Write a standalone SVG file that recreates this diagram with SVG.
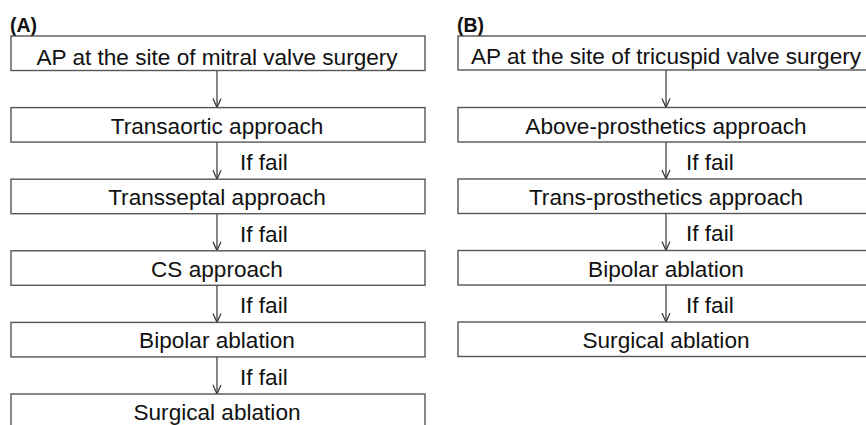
<svg xmlns="http://www.w3.org/2000/svg" width="866" height="425" viewBox="0 0 866 425">
<style>
.box{fill:#fff;stroke:#555;stroke-width:1.4}
.t{font-family:"Liberation Sans",Arial,sans-serif;font-size:22.6px;fill:#111;text-anchor:middle}
.f{font-family:"Liberation Sans",Arial,sans-serif;font-size:22.6px;fill:#111}
.lbl{font-family:"Liberation Sans",Arial,sans-serif;font-size:19.5px;font-weight:bold;fill:#111}
.c{stroke:#333;stroke-width:1.2;fill:none}
</style>
<defs>
<marker id="ah" viewBox="0 0 10 10" refX="10" refY="5" markerWidth="10" markerHeight="10" markerUnits="userSpaceOnUse" orient="auto">
<path d="M1,1 L10,5 L1,9" fill="none" stroke="#333" stroke-width="1.2"/>
</marker>
</defs>
<rect width="866" height="425" fill="#fff"/>
<text class="lbl" x="10" y="32">(A)</text>
<text class="lbl" x="457" y="32">(B)</text>
<g id="connectors">
<line class="c" x1="217" y1="70.5" x2="217" y2="107.6" marker-end="url(#ah)"/>
<line class="c" x1="217" y1="142.1" x2="217" y2="179.2" marker-end="url(#ah)"/>
<line class="c" x1="217" y1="213.7" x2="217" y2="250.8" marker-end="url(#ah)"/>
<line class="c" x1="217" y1="285.3" x2="217" y2="322.4" marker-end="url(#ah)"/>
<line class="c" x1="217" y1="356.9" x2="217" y2="394" marker-end="url(#ah)"/>
<text class="f" x="240" y="170">If fail</text>
<text class="f" x="240" y="241.5">If fail</text>
<text class="f" x="240" y="313">If fail</text>
<text class="f" x="240" y="385">If fail</text>
<line class="c" x1="666" y1="70" x2="666" y2="107.5" marker-end="url(#ah)"/>
<line class="c" x1="666" y1="142" x2="666" y2="179" marker-end="url(#ah)"/>
<line class="c" x1="666" y1="213.5" x2="666" y2="250.5" marker-end="url(#ah)"/>
<line class="c" x1="666" y1="285" x2="666" y2="322" marker-end="url(#ah)"/>
<text class="f" x="686" y="169.5">If fail</text>
<text class="f" x="686" y="241">If fail</text>
<text class="f" x="686" y="312.5">If fail</text>
</g>
<g id="a1"><rect class="box" x="11" y="36" width="414" height="34.5"/><text class="t" x="217" y="64.5">AP at the site of mitral valve surgery</text></g>
<g id="a2"><rect class="box" x="11" y="107.6" width="414" height="34.5"/><text class="t" x="217" y="133.8">Transaortic approach</text></g>
<g id="a3"><rect class="box" x="11" y="179.2" width="414" height="34.5"/><text class="t" x="217" y="205.4">Transseptal approach</text></g>
<g id="a4"><rect class="box" x="11" y="250.8" width="414" height="34.5"/><text class="t" x="217" y="277">CS approach</text></g>
<g id="a5"><rect class="box" x="11" y="322.4" width="414" height="34.5"/><text class="t" x="217" y="348.4">Bipolar ablation</text></g>
<g id="a6"><rect class="box" x="11" y="394" width="414" height="40"/><text class="t" x="217" y="419.5">Surgical ablation</text></g>
<g id="b1"><rect class="box" x="458" y="36" width="420" height="34"/><text class="t" x="666" y="64">AP at the site of tricuspid valve surgery</text></g>
<g id="b2"><rect class="box" x="458" y="107.5" width="420" height="34.5"/><text class="t" x="666" y="133.7">Above-prosthetics approach</text></g>
<g id="b3"><rect class="box" x="458" y="179" width="420" height="34.5"/><text class="t" x="666" y="205.2">Trans-prosthetics approach</text></g>
<g id="b4"><rect class="box" x="458" y="250.5" width="420" height="34.5"/><text class="t" x="666" y="276.7">Bipolar ablation</text></g>
<g id="b5"><rect class="box" x="458" y="322" width="420" height="34.5"/><text class="t" x="666" y="347.7">Surgical ablation</text></g>
</svg>
